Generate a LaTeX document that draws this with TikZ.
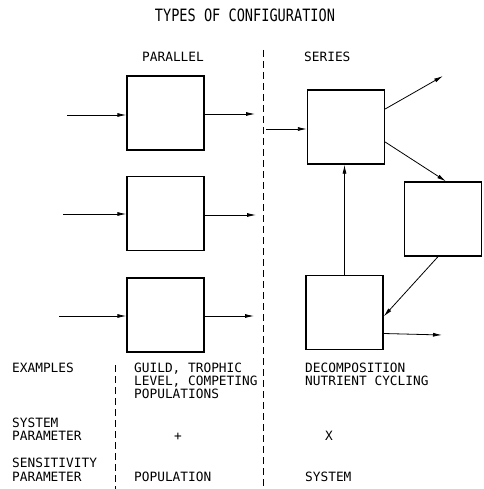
\documentclass[tikz,border=0pt]{standalone}
\usepackage{fontspec}
\setmonofont{DejaVu Sans Mono}
\usetikzlibrary{arrows.meta}
\tikzset{
  blk/.style={draw, line width=1.3pt, minimum width=77pt, minimum height=74pt, inner sep=0pt},
  flow/.style={line width=0.8pt, -{Latex[length=9pt,width=4pt]}},
  txt/.style={anchor=base west, inner sep=0pt, font=\ttfamily\fontsize{12.8}{14}\selectfont},
  sep/.style={line width=0.7pt, dash pattern=on 7pt off 4pt}
}
\begin{document}
\begin{tikzpicture}[x=1pt,y=-1pt]
\useasboundingbox (0,0) rectangle (483,489);
% title and headers
\node[anchor=base, inner sep=0pt, font=\ttfamily\fontsize{17}{18}\selectfont, xscale=0.8, transform shape] (title) at (245,22) {TYPES OF CONFIGURATION};
\node[txt] (par) at (142,62) {PARALLEL};
\node[txt] (ser) at (304,62) {SERIES};
% separators
\coordinate (s1) at (263,50); \coordinate (s2) at (263,489);
\draw[sep] (s1) -- (s2);
\coordinate (l1) at (115,365); \coordinate (l2) at (115,489);
\draw[sep] (l1) -- (l2);
% parallel boxes
\node[blk] (p1) at (165.5,113) {};
\node[blk] (p2) at (165.5,213.5) {};
\node[blk] (p3) at (165.5,315) {};
\coordinate (p1i) at (67,115); \coordinate (p1o) at (255,114);
\coordinate (p2i) at (63,214); \coordinate (p2o) at (256,215);
\coordinate (p3i) at (59,316); \coordinate (p3o) at (254,316);
\draw[flow] (p1i) -- (p1.west |- p1i);
\draw[flow] (p1.east |- p1o) -- (p1o);
\draw[flow] (p2i) -- (p2.west |- p2i);
\draw[flow] (p2.east |- p2o) -- (p2o);
\draw[flow] (p3i) -- (p3.west |- p3i);
\draw[flow] (p3.east |- p3o) -- (p3o);
% series boxes
\node[blk] (a) at (346,127) {};
\node[blk] (b) at (443,219) {};
\node[blk] (c) at (344.5,312.5) {};
\coordinate (ai) at (266,129);
\coordinate (ao) at (443,76);
\coordinate (co) at (442,335);
\draw[flow] (ai) -- (a.west |- ai);
\draw[flow] ([yshift=18pt]a.east) -- (ao);
\draw[flow] ([yshift=-15pt]a.east) -- ([xshift=3pt]b.north);
\draw[flow] (c.north) -- (a.south -| c.north);
\draw[flow] ([xshift=-5pt]b.south) -- ([yshift=-4pt]c.east);
\draw[flow] ([yshift=-21pt]c.east) -- (co);
% table
\node[txt] (ex) at (12,372) {EXAMPLES};
\node[txt] (ex1) at (134,372) {GUILD, TROPHIC};
\node[txt] (ex2) at (134,385) {LEVEL, COMPETING};
\node[txt] (ex3) at (134,398) {POPULATIONS};
\node[txt] (ex4) at (305,372) {DECOMPOSITION};
\node[txt] (ex5) at (305,385) {NUTRIENT CYCLING};
\node[txt] (sp1) at (12,427) {SYSTEM};
\node[txt] (sp2) at (12,440) {PARAMETER};
\node[txt, anchor=base] (plus) at (178,440) {+};
\node[txt, anchor=base] (cross) at (329,440) {X};
\node[txt] (se1) at (12,467) {SENSITIVITY};
\node[txt] (se2) at (12,481) {PARAMETER};
\node[txt] (pop) at (134,481) {POPULATION};
\node[txt] (sys) at (305,481) {SYSTEM};
\end{tikzpicture}
\end{document}
